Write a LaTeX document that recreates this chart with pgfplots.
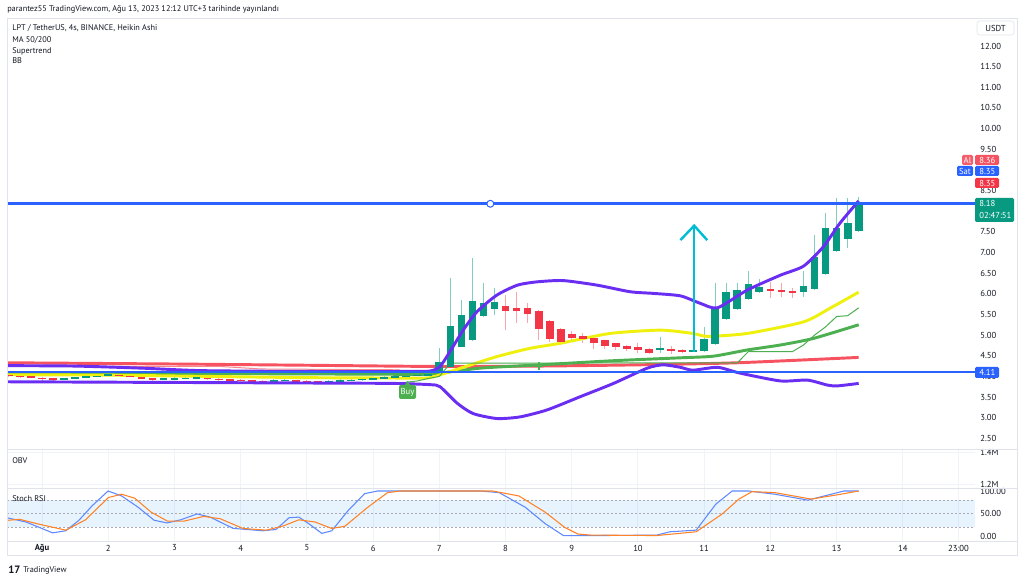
\documentclass[border=0pt]{standalone}
\usepackage{fontspec}
\setmainfont{PT Sans}
\usepackage{pgfplots}
\usepackage{pgfplotstable}
\pgfplotsset{compat=1.18}
\usepgfplotslibrary{fillbetween}

\definecolor{tvgreen}{HTML}{089981}
\definecolor{tvred}{HTML}{F23645}
\definecolor{tvblue}{HTML}{2962FF}
\definecolor{tvtext}{HTML}{131722}
\definecolor{tvgrid}{HTML}{F0F3FA}
\definecolor{tvframe}{HTML}{E0E3EB}
\definecolor{bbpurple}{HTML}{6A2EF2}
\definecolor{bbyellow}{HTML}{F0F00F}
\definecolor{ma50}{HTML}{4CAF50}
\definecolor{ma200}{HTML}{F7525F}
\definecolor{arrowcyan}{HTML}{00BCD4}
\definecolor{stochd}{HTML}{FF6D00}
\definecolor{bandblue}{HTML}{2196F3}
\definecolor{dotgrey}{HTML}{A8ABB5}

\newcommand\tvfont{\fontsize{6.5}{7.5}\selectfont}
\newcommand\tvsmall{\fontsize{6.2}{7.2}\selectfont}

% Heikin Ashi 4h candles, x in days of August
\pgfplotstableread{
x o h l c
0.500 4.04 4.05 3.99 4.01
0.667 4.02 4.03 3.97 3.99
0.833 4.00 4.01 3.95 3.97
1.000 3.97 3.98 3.88 3.93
1.167 3.95 3.96 3.90 3.92
1.333 3.93 3.97 3.92 3.96
1.500 3.95 3.99 3.94 3.98
1.667 3.97 4.01 3.96 4.00
1.833 3.99 4.03 3.98 4.02
2.000 4.01 4.06 4.00 4.05
2.167 4.04 4.05 4.00 4.01
2.333 4.02 4.03 3.98 3.99
2.500 3.99 4.00 3.94 3.95
2.667 3.96 3.97 3.87 3.92
2.833 3.92 3.97 3.91 3.95
3.000 3.93 3.98 3.92 3.96
3.167 3.95 3.98 3.94 3.97
3.333 3.96 4.00 3.95 3.98
3.500 3.97 3.98 3.92 3.93
3.667 3.94 3.95 3.90 3.91
3.833 3.93 3.94 3.90 3.91
4.000 3.92 3.93 3.89 3.90
4.167 3.91 3.92 3.88 3.89
4.333 3.90 3.91 3.87 3.88
4.500 3.88 3.93 3.87 3.91
4.667 3.90 3.94 3.89 3.92
4.833 3.91 3.92 3.88 3.89
5.000 3.90 3.91 3.86 3.88
5.167 3.89 3.90 3.86 3.87
5.333 3.88 3.92 3.87 3.90
5.500 3.89 3.93 3.88 3.91
5.667 3.90 3.94 3.89 3.92
5.833 3.91 3.96 3.90 3.94
6.000 3.93 3.98 3.92 3.96
6.167 3.95 4.00 3.94 3.98
6.333 3.97 4.02 3.96 4.00
6.500 3.99 4.04 3.98 4.02
6.667 4.01 4.06 4.00 4.04
6.833 4.03 4.08 4.02 4.06
7.000 4.08 4.69 4.05 4.36
7.167 4.22 6.38 4.20 5.22
7.333 4.72 5.85 4.70 5.49
7.500 4.88 6.86 4.86 5.83
7.667 5.47 6.25 5.45 5.78
7.833 5.62 6.13 5.49 5.79
8.000 5.71 5.97 5.12 5.59
8.167 5.66 6.05 5.29 5.59
8.333 5.65 5.77 5.29 5.50
8.500 5.58 5.60 4.87 5.15
8.667 5.35 5.37 4.84 4.90
8.833 5.14 5.16 4.76 4.84
9.000 5.02 5.11 4.84 4.92
9.167 4.98 5.06 4.80 4.90
9.333 4.94 4.96 4.66 4.80
9.500 4.87 4.89 4.66 4.74
9.667 4.80 4.82 4.64 4.70
9.833 4.74 4.76 4.62 4.66
10.000 4.70 4.80 4.57 4.64
10.167 4.67 4.69 4.55 4.57
10.333 4.63 4.96 4.56 4.69
10.500 4.66 4.74 4.55 4.62
10.667 4.65 4.67 4.57 4.58
10.833 4.61 4.64 4.60 4.63
11.000 4.61 5.19 4.60 4.90
11.167 4.78 6.27 4.76 5.63
11.333 5.38 6.27 5.36 6.04
11.500 5.62 6.25 5.60 6.09
11.667 5.87 6.56 5.85 6.23
11.833 6.04 6.35 6.02 6.17
12.000 6.11 6.29 5.89 6.08
12.167 6.09 6.25 5.93 6.05
12.333 6.08 6.15 5.89 6.01
12.500 6.04 6.56 5.92 6.19
12.667 6.12 7.42 6.10 6.88
12.833 6.48 7.95 6.46 7.59
13.000 7.04 8.31 7.02 7.60
13.167 7.32 8.31 7.10 7.72
13.333 7.52 8.35 7.50 8.15
}\candles

% MA 200 (red)
\pgfplotstableread{
x y
0.47 4.33
3 4.30
5 4.27
7 4.24
8.5 4.25
10 4.28
11.5 4.33
13.333 4.46
}\mab

% MA 50 (green)
\pgfplotstableread{
x y
0.47 4.07
3 4.07
5 4.06
6.5 4.05
6.86 4.05
7.62 4.20
8.52 4.28
9.63 4.38
10.64 4.45
11.14 4.49
11.65 4.64
12.15 4.76
12.65 4.92
13.333 5.25
}\maa

% BB basis (yellow)
\pgfplotstableread{
x y
0.47 4.04
2 4.03
3.5 4.00
5 3.97
6.5 3.96
6.86 3.97
7.36 4.22
7.87 4.48
8.37 4.68
8.82 4.80
9.58 5.04
10.34 5.12
10.83 5.04
11.05 4.97
11.65 5.04
12.5 5.32
12.9 5.65
13.333 6.04
}\basis

% BB upper
\pgfplotstableread{
x y
0.47 4.26
1.5 4.25
2.5 4.20
3.4 4.14
5 4.12
6.5 4.12
6.86 4.13
7.01 4.24
7.16 4.60
7.36 5.12
7.57 5.57
7.87 5.97
8.18 6.21
8.48 6.29
8.87 6.32
9.38 6.21
9.88 6.05
10.23 6.01
10.64 5.95
10.94 5.77
11.20 5.66
11.65 6.09
12.15 6.45
12.5 6.67
12.8 7.14
13.05 7.71
13.333 8.25
}\bbup

% BB lower
\pgfplotstableread{
x y
0.47 3.87
2 3.86
3.5 3.85
5 3.84
6.3 3.83
6.86 3.80
7.01 3.75
7.27 3.35
7.51 3.10
7.87 2.98
8.22 3.02
8.63 3.19
9.13 3.51
9.63 3.83
10.14 4.20
10.38 4.28
10.64 4.22
10.83 4.15
11.20 4.22
11.54 4.08
12.15 3.89
12.56 3.91
12.86 3.79
13.01 3.77
13.333 3.83
}\bblo

% Supertrend
\pgfplotstableread{
x y
6.5 3.86
6.667 3.89
6.833 3.95
7.0 4.00
7.167 4.32
11.5 4.33
11.667 4.60
12.333 4.60
12.5 4.76
12.667 5.00
12.833 5.20
13.0 5.45
13.167 5.47
13.333 5.66
}\stgreen

\pgfplotstableread{
x y
0.47 4.25
3.7 4.24
4.3 4.18
6.4 4.16
}\stred

% Stoch RSI
\pgfplotstableread{
x y
0.47 40.6
0.758 31
1.159 7
1.358 11.6
1.556 34.8
1.755 67
1.997 100
2.201 89
2.450 64
2.692 35
2.888 29
3.094 36
3.341 49
3.538 42
3.885 17
4.332 11.6
4.532 14.5
4.731 40.6
4.879 42
5.027 27.5
5.225 5.8
5.375 11.6
5.622 56.5
5.870 94
6.068 100
7.616 100
7.903 96.4
8.296 64
8.598 27.5
8.876 0.7
9.43 1
10.284 2
10.482 9.4
10.879 13
11.177 71
11.423 100
11.672 100
12.069 92.8
12.565 79.7
13.110 100
13.333 100
}\stochk

\pgfplotstableread{
x y
0.47 34.8
0.663 37
0.961 26
1.358 13
1.656 36
2.002 85.5
2.201 92.8
2.399 84
2.647 53
2.894 33
3.142 33
3.440 43.5
3.689 38.4
4.036 16.7
4.384 13
4.630 21.7
4.879 36
5.124 31
5.375 16.7
5.573 21.7
5.920 64
6.218 96.4
6.415 100
7.804 100
8.201 89
8.598 53
8.896 18.8
9.094 4.3
9.293 2
10.284 1
10.879 9.4
11.272 49
11.524 82
11.722 98.5
12.069 96.4
12.616 82
13.062 92.8
13.333 100
}\stochd

\pgfplotsset{
  tvpane/.style={
    scale only axis, width=726pt, anchor=south west,
    xmin=0.47, xmax=15.09,
    axis line style={draw=none}, major tick length=0pt, tick style={draw=none},
    xtick={1,2,3,4,5,6,7,8,9,10,11,12,13,14,14.84}, xticklabels={},
    xmajorgrids, major grid style={tvgrid, line width=0.75pt},
    yticklabel pos=right,
    yticklabel style={anchor=west, inner sep=0pt, xshift=3.75pt, font=\tvfont, text=tvtext},
    /pgf/number format/assume math mode=true,
  }
}

\begin{document}
\begin{tikzpicture}[x=0.75pt,y=0.75pt]
\fill[white] (0,0) rectangle (1024,581);

% ---- price pane
\begin{axis}[tvpane, at={(5.25pt,98.25pt)}, height=323.25pt,
  ymin=2.218, ymax=12.654, ymajorgrids,
  ytick={2.5,3,3.5,4,4.5,5,5.5,6,6.5,7,7.5,8.5,9.5,10,10.5,11,11.5,12},
  extra y ticks={8,9}, extra y tick labels={},
  extra y tick style={grid=major, major grid style={tvgrid, line width=0.75pt}},
  yticklabel style={/pgf/number format/fixed, /pgf/number format/fixed zerofill, /pgf/number format/precision=2}]

\addplot[draw=none, name path=bbU, forget plot] table {\bbup};
\addplot[draw=none, name path=bbL, forget plot] table {\bblo};
\addplot[fill=bandblue, fill opacity=0.06, draw=none] fill between[of=bbU and bbL];
\addplot[draw=none, name path=stG, forget plot] table {\stgreen};
\addplot[draw=none, name path=hac, forget plot, restrict x to domain=6.4:13.5] table[x=x, y=c] {\candles};
\addplot[fill=ma50, fill opacity=0.14, draw=none] fill between[of=hac and stG];

% wicks
\addplot[draw=none, forget plot, restrict expr to domain={\thisrow{c}-\thisrow{o}}{0:10},
  error bars/.cd, y dir=both, y explicit, error mark=none,
  error bar style={draw=tvgreen!50, line width=0.75pt}]
  table[x=x, y expr={(\thisrow{h}+\thisrow{l})/2}, y error expr={(\thisrow{h}-\thisrow{l})/2}] {\candles};
\addplot[draw=none, forget plot, restrict expr to domain={\thisrow{c}-\thisrow{o}}{-10:0},
  error bars/.cd, y dir=both, y explicit, error mark=none,
  error bar style={draw=tvred!45, line width=0.75pt}]
  table[x=x, y expr={(\thisrow{h}+\thisrow{l})/2}, y error expr={(\thisrow{h}-\thisrow{l})/2}] {\candles};

% indicators under the flat candles
\addplot[ma200, line width=2.2pt, smooth, tension=0.4] table {\mab};
\addplot[tvred!60, line width=0.75pt] table {\stred};
\addplot[ma50, line width=2.2pt, smooth, tension=0.4] table {\maa};
\addplot[bbyellow, line width=2.2pt, smooth, tension=0.4] table {\basis};
\addplot[ma50, line width=0.75pt] table {\stgreen};

% bodies
\addplot[draw=none, forget plot, restrict expr to domain={\thisrow{c}-\thisrow{o}}{0:10},
  error bars/.cd, y dir=both, y explicit, error mark=none,
  error bar style={draw=tvgreen, line width=5.8pt}]
  table[x=x, y expr={(\thisrow{o}+\thisrow{c})/2}, y error expr={abs(\thisrow{c}-\thisrow{o})/2}] {\candles};
\addplot[draw=none, forget plot, restrict expr to domain={\thisrow{c}-\thisrow{o}}{-10:0},
  error bars/.cd, y dir=both, y explicit, error mark=none,
  error bar style={draw=tvred, line width=5.8pt}]
  table[x=x, y expr={(\thisrow{o}+\thisrow{c})/2}, y error expr={abs(\thisrow{c}-\thisrow{o})/2}] {\candles};

% Bollinger bands
\addplot[bbpurple, line width=2.2pt, smooth, tension=0.4] table {\bbup};
\addplot[bbpurple, line width=2.2pt, smooth, tension=0.4] table {\bblo};
\addplot[only marks, mark=+, mark size=3pt, line width=1.6pt, ma50] coordinates {(8.51,4.25)};

% drawings
\addplot[tvblue, line width=1.9pt] coordinates {(0.47,8.18) (15.09,8.18)};
\addplot[tvblue, line width=1.9pt] coordinates {(0.47,4.11) (15.09,4.11)};
\addplot[only marks, mark=*, mark size=2.6pt, mark options={fill=white, draw=tvblue, line width=0.75pt}] coordinates {(7.77,8.18)};
\addplot[arrowcyan, line width=1.8pt] coordinates {(10.849,4.60) (10.849,7.62)};
\addplot[arrowcyan, line width=1.8pt, line join=miter] coordinates {(10.64,7.30) (10.849,7.65) (11.045,7.30)};
\end{axis}

% ---- OBV pane
\begin{axis}[tvpane, at={(5.25pt,69pt)}, height=29.25pt,
  ymin=1.169, ymax=1.4125, ytick={1.2,1.4}, yticklabels={1.2M,1.4M}, ymajorgrids]
\addplot[draw=none] coordinates {(1,1.3)};
\end{axis}

% ---- Stoch RSI pane
\begin{axis}[tvpane, at={(5.25pt,29.25pt)}, height=39.75pt,
  ymin=-13.33, ymax=104.44, ytick={0,50,100}, yticklabels={0.00,50.00,100.00},
  xticklabels={\textbf{Ağu},2,3,4,5,6,7,8,9,10,11,12,13,14,23:00},
  xticklabel style={font=\tvfont, text=tvtext, anchor=center, inner sep=0pt, yshift=-4.5pt}]
\addplot[fill=bandblue, fill opacity=0.1, draw=none] coordinates {(0.47,20) (15.09,20) (15.09,80) (0.47,80)} -- cycle;
\addplot[dotgrey, line width=0.6pt, dash pattern=on 1.5pt off 1.5pt] coordinates {(0.47,80) (15.09,80)};
\addplot[dotgrey, line width=0.6pt, dash pattern=on 1.5pt off 1.5pt] coordinates {(0.47,50) (15.09,50)};
\addplot[dotgrey, line width=0.6pt, dash pattern=on 1.5pt off 1.5pt] coordinates {(0.47,20) (15.09,20)};
\addplot[tvblue!75, line width=0.8pt] table {\stochk};
\addplot[stochd!85, line width=0.8pt] table {\stochd};
\end{axis}

% ---- frame
\draw[tvframe, line width=0.75pt] (7,562) rectangle (1017,25);
\draw[tvframe, line width=0.75pt] (7,131) -- (1017,131);
\draw[tvframe, line width=0.75pt] (7,92) -- (1017,92);
\draw[tvframe, line width=0.75pt] (7,39) -- (1017,39);

% ---- texts
\begin{scope}[every node/.style={font=\tvsmall, text=tvtext, inner sep=0pt}]
\node[anchor=west] at (7,572) {parantez55 TradingView.com, Ağu 13, 2023 12:12 UTC+3 tarihinde yayınlandı};
\node[anchor=west] at (12,553) {LPT / TetherUS, 4s, BINANCE, Heikin Ashi};
\node[anchor=west] at (12,541) {MA 50/200};
\node[anchor=west] at (12,530) {Supertrend};
\node[anchor=west] at (12,520) {BB};
\node[anchor=west] at (12,120) {OBV};
\node[anchor=west] at (12,82) {Stoch RSI};
\node[anchor=west, font=\bfseries\fontsize{8}{8}\selectfont] at (8,11) {17};
\node[anchor=west] at (23,11) {TradingView};
\end{scope}

% ---- price scale labels
\draw[tvframe, fill=white, rounded corners=2pt] (977,560) rectangle (1014,546);
\node[font=\tvfont, text=tvtext, inner sep=0pt] at (995.5,553) {USDT};
\begin{scope}[every node/.style={font=\tvfont, text=white, inner sep=0pt}]
\fill[tvred!80, rounded corners=1pt] (962,426) rectangle (973,416);
\node at (967.5,421) {Al};
\fill[tvred!85, rounded corners=1pt] (975,426) rectangle (999,416);
\node[anchor=west] at (979,421) {8.36};
\fill[tvblue, rounded corners=1pt] (957,415) rectangle (973,405);
\node at (965,410) {Sat};
\fill[tvblue, rounded corners=1pt] (975,415) rectangle (999,405);
\node[anchor=west] at (979,410) {8.35};
\fill[tvred, rounded corners=1pt] (975,403) rectangle (999,393);
\node[anchor=west] at (979,398) {8.35};
\fill[tvgreen, rounded corners=1pt] (975,383) rectangle (1014,359);
\node[anchor=west] at (979,377.5) {8.18};
\node[anchor=west] at (979,365.5) {02:47:51};
\fill[tvblue, rounded corners=1pt] (975,214) rectangle (999,203);
\node[anchor=west] at (979,208.5) {4.11};
% Buy label
\fill[ma50, rounded corners=1.5pt] (399,196) rectangle (416,182);
\fill[ma50] (404,195) -- (407.5,200) -- (411,195) -- cycle;
\node at (407.5,189) {Buy};
\end{scope}
\end{tikzpicture}
\end{document}
